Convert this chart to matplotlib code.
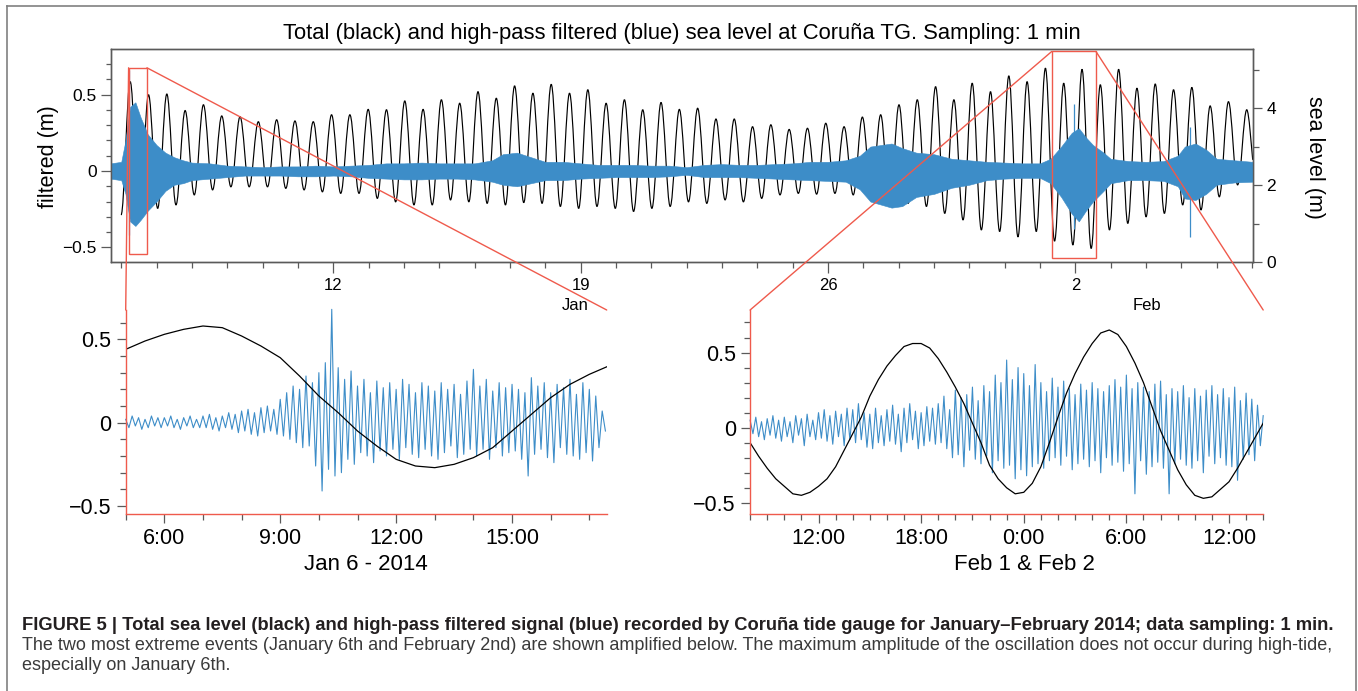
import numpy as np
import matplotlib
matplotlib.use("Agg")
import matplotlib.pyplot as plt
from matplotlib.patches import Rectangle, ConnectionPatch, PathPatch
from matplotlib.path import Path
from matplotlib.ticker import FixedLocator, FixedFormatter
from matplotlib.lines import Line2D
import matplotlib.transforms as mtransforms

plt.rcParams['font.family'] = ['Liberation Sans', 'DejaVu Sans']

# ------------------------------------------------------------------ data
# time unit: day of month counted from Jan 1 (Feb 1 = 32)
tide_first_low_day = 5.995
tide_period_days = 0.518
tide_lows_m = [1.23, 1.14, 1.40, 1.49, 1.75, 1.88, 1.96, 1.96, 1.96, 1.92, 1.88, 1.83, 1.79, 1.79, 1.66, 1.57, 1.49, 1.49,
               1.62, 1.57, 1.53, 1.49, 1.55, 1.53, 1.45, 1.40, 1.45, 1.40, 1.32, 1.40, 1.45, 1.57, 1.53, 1.62, 1.57, 1.66,
               1.75, 1.79, 1.77, 1.79, 1.75, 1.70, 1.45,
               1.53, 1.45, 1.27, 1.10, 0.84, 0.80, 0.66, 0.80, 0.55, 0.45, 0.36, 0.84, 1.01, 1.18, 1.27, 1.49, 1.36, 1.70, 2.01]
tide_highs_m = [4.69, 4.35, 4.37, 3.94, 4.09, 3.80, 3.78, 3.65, 3.70, 3.67, 3.65, 3.83, 3.83, 3.97, 3.96, 4.19, 3.97, 4.22,
                4.13, 4.43, 4.26, 4.58, 4.39, 4.62, 4.39, 4.48, 4.13, 4.22, 3.96, 4.15, 3.97, 4.00, 3.72, 3.72, 3.52, 3.57,
                3.45, 3.48, 3.61, 3.52, 3.77, 3.83, 4.09,
                4.22, 4.56, 4.22, 4.65, 4.43, 4.84, 4.69, 5.04, 4.65, 5.01, 4.61, 5.01, 4.52, 4.63, 4.48, 4.54, 4.06, 4.17, 3.96]
tide_end_day = 38.02
tide_end_m = 2.66

blue_env_day = [5.70, 6.00, 6.12, 6.25, 6.40, 6.55, 6.75, 7.00, 7.25, 7.50, 7.75, 8.00, 8.50, 9.00, 9.50, 10.0, 10.5,
                11.0, 11.5, 12.0, 12.5, 13.0, 13.5, 14.0, 14.5, 15.0, 15.5, 16.0, 16.5, 16.8, 17.2, 17.6, 18.0, 18.5,
                19.0, 19.5, 20.0, 20.5, 21.0, 21.5, 22.0, 22.5, 23.0, 23.5, 24.0, 24.5, 25.0, 25.5, 26.0, 26.5, 26.9,
                27.2, 27.5, 27.8, 28.1, 28.5, 29.0, 29.5, 30.0, 30.5, 31.0, 31.5, 32.0, 32.3, 32.6, 32.9, 33.1, 33.3,
                33.5, 33.8, 34.0, 34.5, 35.0, 35.5, 35.9, 36.1, 36.4, 36.7, 37.0, 37.5, 38.02]
blue_env_upper = [0.05, 0.06, 0.20, 0.42, 0.45, 0.35, 0.24, 0.17, 0.12, 0.09, 0.07, 0.055, 0.05, 0.035, 0.03, 0.025, 0.03,
                  0.03, 0.035, 0.03, 0.035, 0.04, 0.05, 0.05, 0.055, 0.05, 0.05, 0.05, 0.07, 0.11, 0.12, 0.09, 0.06, 0.06,
                  0.05, 0.04, 0.04, 0.04, 0.035, 0.035, 0.025, 0.04, 0.045, 0.04, 0.04, 0.045, 0.05, 0.06, 0.06, 0.07, 0.10,
                  0.16, 0.17, 0.18, 0.15, 0.12, 0.11, 0.08, 0.07, 0.06, 0.055, 0.05, 0.05, 0.08, 0.16, 0.25, 0.28, 0.22,
                  0.17, 0.12, 0.08, 0.065, 0.06, 0.065, 0.10, 0.16, 0.18, 0.14, 0.08, 0.07, 0.06]
blue_env_lower = [-0.05, -0.06, -0.15, -0.33, -0.36, -0.32, -0.26, -0.20, -0.13, -0.09, -0.08, -0.06, -0.05, -0.04, -0.03,
                  -0.03, -0.03, -0.035, -0.035, -0.03, -0.035, -0.045, -0.05, -0.055, -0.055, -0.05, -0.05, -0.055, -0.07,
                  -0.09, -0.10, -0.08, -0.06, -0.06, -0.05, -0.045, -0.04, -0.04, -0.04, -0.035, -0.025, -0.04, -0.04,
                  -0.04, -0.045, -0.05, -0.055, -0.06, -0.065, -0.07, -0.12, -0.20, -0.22, -0.24, -0.23, -0.17, -0.15,
                  -0.11, -0.09, -0.06, -0.05, -0.045, -0.045, -0.08, -0.17, -0.28, -0.33, -0.26, -0.20, -0.13, -0.08,
                  -0.06, -0.06, -0.065, -0.10, -0.18, -0.19, -0.15, -0.09, -0.075, -0.07]
blue_spike_day = [6.23, 32.95, 36.25]
blue_spike_hi = [0.66, 0.44, 0.29]
blue_spike_lo = [-0.42, -0.38, -0.43]

# zoom 1: Jan 6, from 05:00
jan6_day = 6
jan6_start_h = 5.0
jan6_end_h = 17.45
jan6_blue_step_min = 5
jan6_blue = [0.02, -0.03, 0.04, -0.02, 0.03, -0.04, 0.02, -0.03, 0.04, -0.02, 0.03, -0.03,
             0.03, -0.02, 0.04, -0.03, 0.02, -0.04, 0.03, -0.02, 0.04, -0.03, 0.02, -0.03,
             0.04, -0.03, 0.05, -0.04, 0.03, -0.05, 0.04, -0.03, 0.06, -0.04, 0.05, -0.06,
             0.07, -0.05, 0.08, -0.07, 0.06, -0.08, 0.09, -0.06, 0.10, -0.05, 0.08, -0.07,
             0.14, -0.08, 0.18, -0.10, 0.22, -0.12, 0.20, -0.15, 0.28, -0.14, 0.24, -0.26,
             0.30, -0.41, 0.36, -0.28, 0.68, -0.32, 0.33, -0.30, 0.26, -0.22, 0.31, -0.25,
             0.22, -0.18, 0.26, -0.20, 0.18, -0.24, 0.25, -0.17, 0.21, -0.20, 0.24, -0.16,
             0.20, -0.22, 0.26, -0.15, 0.23, -0.19, 0.18, -0.21, 0.24, -0.16, 0.22, -0.20,
             0.19, -0.22, 0.24, -0.18, 0.20, -0.14, 0.23, -0.21, 0.17, -0.19, 0.25, -0.16,
             0.32, -0.20, 0.22, -0.16, 0.26, -0.22, 0.19, -0.15, 0.24, -0.20, 0.21, -0.18,
             0.23, -0.17, 0.20, -0.22, 0.18, -0.32, 0.27, -0.19, 0.22, -0.16, 0.24, -0.21,
             0.18, -0.24, 0.23, -0.15, 0.21, -0.19, 0.26, -0.20, 0.17, -0.22, 0.24, -0.18,
             0.20, -0.23, 0.16, -0.15, 0.07, -0.05]
jan6_black_step_min = 30
jan6_black = [0.44, 0.49, 0.53, 0.56, 0.58, 0.57, 0.52, 0.46, 0.39, 0.28, 0.16, 0.06, -0.05, -0.14, -0.22, -0.26,
              -0.27, -0.25, -0.21, -0.15, -0.05, 0.05, 0.15, 0.23, 0.29, 0.34]

# zoom 2: Feb 1 08:00 -> Feb 2 14:00
feb_day = 32
feb_start_h = 8.0
feb_end_h = 38.0
feb_blue_step_min = 10
feb_blue = [0.05, -0.04, 0.07, -0.06, 0.04, -0.08, 0.06, -0.05, 0.08, -0.07, 0.05, -0.09,
            0.07, -0.06, 0.04, -0.10, 0.08, -0.05, 0.06, -0.12, 0.09, -0.06, 0.05, -0.08,
            0.10, -0.07, 0.12, -0.09, 0.08, -0.11, 0.11, -0.06, 0.09, -0.12, 0.13, -0.08,
            0.12, -0.10, 0.16, -0.08, 0.10, -0.13, 0.09, -0.14, 0.13, -0.10, 0.08, -0.12,
            0.12, -0.09, 0.15, -0.11, 0.09, -0.16, 0.13, -0.10, 0.16, -0.08, 0.11, -0.14,
            0.10, -0.12, 0.14, -0.09, 0.13, -0.11, 0.16, -0.10, 0.21, -0.14, 0.12, -0.20,
            0.25, -0.18, 0.20, -0.26, 0.22, -0.15, 0.27, -0.21, 0.18, -0.24, 0.28, -0.19,
            0.24, -0.30, 0.35, -0.22, 0.30, -0.27, 0.45, -0.25, 0.32, -0.34, 0.40, -0.28,
            0.36, -0.32, 0.28, -0.26, 0.42, -0.24, 0.30, -0.27, 0.24, -0.22, 0.33, -0.20,
            0.27, -0.25, 0.31, -0.19, 0.26, -0.28, 0.22, -0.24, 0.29, -0.21, 0.25, -0.26,
            0.30, -0.22, 0.26, -0.30, 0.24, -0.20, 0.28, -0.25, 0.32, -0.23, 0.27, -0.29,
            0.35, -0.24, 0.26, -0.44, 0.30, -0.22, 0.27, -0.31, 0.24, -0.26, 0.29, -0.23,
            0.31, -0.27, 0.22, -0.44, 0.26, -0.24, 0.24, -0.21, 0.28, -0.25, 0.20, -0.27,
            0.26, -0.22, 0.21, -0.30, 0.25, -0.19, 0.28, -0.24, 0.22, -0.20, 0.26, -0.25,
            0.20, -0.26, 0.27, -0.35, 0.18, -0.21, 0.23, -0.18, 0.19, -0.22, 0.15, -0.12,
            0.08]
feb_black_step_min = 30
feb_black = [-0.10, -0.19, -0.27, -0.34, -0.39, -0.44, -0.45, -0.43, -0.39, -0.34, -0.26, -0.15, -0.04, 0.07, 0.21,
             0.32, 0.41, 0.48, 0.54, 0.56, 0.56, 0.53, 0.46, 0.37, 0.27, 0.16, 0.03, -0.10, -0.25, -0.34, -0.40,
             -0.44, -0.43, -0.37, -0.26, -0.10, 0.07, 0.23, 0.36, 0.47, 0.56, 0.63, 0.65, 0.62, 0.54, 0.43, 0.30,
             0.14, -0.02, -0.15, -0.28, -0.38, -0.45, -0.47, -0.46, -0.41, -0.36, -0.27, -0.17, -0.07, 0.03]

main_day_major = [12, 19, 26, 33]
main_day_labels = ['12', '19', '26', '2']
jan6_tick_h = [6, 9, 12, 15]
jan6_tick_labels = ['6:00', '9:00', '12:00', '15:00']
feb_tick_h = [12, 18, 24, 30, 36]
feb_tick_labels = ['12:00', '18:00', '0:00', '6:00', '12:00']

# ------------------------------------------------------------------ style
W, H = 1358, 691
BLUE = '#3d8dc8'
RED = '#ef5a4c'
AX = '#5a5a5a'

fig = plt.figure(figsize=(W / 100, H / 100), dpi=100)


def rect(l, t, r, b):
    return [l / W, 1 - b / H, (r - l) / W, (b - t) / H]


def fy(y):
    return 1 - y / H


# ------------------------------------------------------------------ main axes
ax = fig.add_axes(rect(111, 49.3, 1252.7, 262.3))
ax2 = ax.twinx()

# tide: smooth curve through successive low / high water values (flat tangents at extremes)
low_days = tide_first_low_day + tide_period_days * np.arange(len(tide_lows_m))
high_days = low_days + tide_period_days / 2
ext_t = np.column_stack([low_days, high_days]).ravel()
ext_h = np.column_stack([tide_lows_m, tide_highs_m]).ravel()
verts = [(ext_t[0], ext_h[0])]
codes = [Path.MOVETO]
for i in range(1, len(ext_t)):
    dt = ext_t[i] - ext_t[i - 1]
    verts += [(ext_t[i - 1] + 0.36 * dt, ext_h[i - 1]), (ext_t[i] - 0.36 * dt, ext_h[i]), (ext_t[i], ext_h[i])]
    codes += [Path.CURVE4] * 3
dt = tide_end_day - ext_t[-1]
verts += [(ext_t[-1] + 0.36 * dt, ext_h[-1]), (tide_end_day - 0.2 * dt, tide_end_m + 0.3), (tide_end_day, tide_end_m)]
codes += [Path.CURVE4] * 3
ax2.add_patch(PathPatch(Path(verts, codes), fill=False, ec='black', lw=0.85))

ax.fill_between(blue_env_day, blue_env_upper, blue_env_lower, color=BLUE, lw=0.4)
ax.vlines(blue_spike_day, blue_spike_lo, blue_spike_hi, color=BLUE, lw=0.9)
ax.set_zorder(ax2.get_zorder() + 1)
ax.patch.set_visible(False)

ax.set_xlim(5.71, 38.02)
ax.set_ylim(-0.598, 0.797)
ax2.set_ylim(0, 5.53)

ax.yaxis.set_major_locator(FixedLocator([-0.5, 0, 0.5]))
ax.yaxis.set_major_formatter(FixedFormatter(['\u22120.5', '0', '0.5']))
ax.yaxis.set_minor_locator(FixedLocator(np.round(np.arange(-0.5, 0.75, 0.1), 2)))
ax2.yaxis.set_major_locator(FixedLocator([0, 2, 4]))
ax2.yaxis.set_major_formatter(FixedFormatter(['0', '2', '4']))
ax2.yaxis.set_minor_locator(FixedLocator([1, 3, 5]))
ax.xaxis.set_major_locator(FixedLocator(main_day_major))
ax.xaxis.set_major_formatter(FixedFormatter(main_day_labels))
ax.xaxis.set_minor_locator(FixedLocator(np.arange(6, 39)))

for a in (ax, ax2):
    for s in a.spines.values():
        s.set_color(AX)
        s.set_linewidth(1.0)
ax.tick_params(axis='y', which='major', length=7.2, width=0.9, color=AX, labelsize=12.5, pad=3)
ax.tick_params(axis='y', which='minor', length=3.6, width=0.9, color=AX)
ax.tick_params(axis='x', which='major', length=8, width=0.9, color=AX, labelsize=12, pad=3)
ax.tick_params(axis='x', which='minor', length=4.3, width=0.9, color=AX)
ax2.tick_params(axis='y', which='major', length=6.5, width=0.9, color=AX, labelsize=12.5, pad=3.5)
ax2.tick_params(axis='y', which='minor', length=4.3, width=0.9, color=AX)

bt = mtransforms.blended_transform_factory(ax.transData, fig.transFigure)
ax.text(18.84, fy(306), 'Jan', transform=bt, ha='center', va='center', fontsize=12)
ax.text(35.02, fy(306), 'Feb', transform=bt, ha='center', va='center', fontsize=12)

fig.text(49 / W, fy(157), 'filtered (m)', rotation=90, ha='center', va='center', fontsize=15.5)
fig.text(1315 / W, fy(157), 'sea level (m)', rotation=270, ha='center', va='center', fontsize=15.5)
fig.text(682 / W, fy(34), 'Total (black) and high-pass filtered (blue) sea level at Coruña TG. Sampling: 1 min',
         ha='center', va='center', fontsize=15.8)


# ------------------------------------------------------------------ zoom panels
def style_panel(p, ylim, yminor):
    p.set_ylim(*ylim)
    p.spines['top'].set_visible(False)
    p.spines['right'].set_visible(False)
    for k in ('left', 'bottom'):
        p.spines[k].set_color(RED)
        p.spines[k].set_linewidth(1.0)
    p.yaxis.set_major_locator(FixedLocator([-0.5, 0, 0.5]))
    p.yaxis.set_major_formatter(FixedFormatter(['\u22120.5', '0', '0.5']))
    p.yaxis.set_minor_locator(FixedLocator(yminor))
    p.tick_params(which='major', length=6.8, width=0.9, color=AX, labelsize=15.5, pad=3.5)
    p.tick_params(which='minor', length=4.1, width=0.9, color=AX)
    p.patch.set_visible(False)


p1 = fig.add_axes(rect(125.7, 310, 606.7, 513.5))
t1_blue = jan6_day + (jan6_start_h * 60 + jan6_blue_step_min * np.arange(len(jan6_blue))) / 1440
t1_black = jan6_day + (jan6_start_h * 60 + jan6_black_step_min * np.arange(len(jan6_black))) / 1440
p1.plot(t1_blue, jan6_blue, color=BLUE, lw=0.8, clip_on=False)
p1.plot(t1_black, jan6_black, color='black', lw=0.9)
p1.set_xlim(jan6_day + jan6_start_h / 24, jan6_day + jan6_end_h / 24)
style_panel(p1, (-0.545, 0.676), np.round(np.arange(-0.5, 0.65, 0.1), 2))
p1.xaxis.set_major_locator(FixedLocator([jan6_day + h / 24 for h in jan6_tick_h]))
p1.xaxis.set_major_formatter(FixedFormatter(jan6_tick_labels))
p1.xaxis.set_minor_locator(FixedLocator([jan6_day + h / 24 for h in range(5, 18)]))

p2 = fig.add_axes(rect(750.1, 310, 1263.2, 513.5))
t2_blue = feb_day + (feb_start_h * 60 + feb_blue_step_min * np.arange(len(feb_blue))) / 1440
t2_black = feb_day + (feb_start_h * 60 + feb_black_step_min * np.arange(len(feb_black))) / 1440
p2.plot(t2_blue, feb_blue, color=BLUE, lw=0.8, clip_on=False)
p2.plot(t2_black, feb_black, color='black', lw=0.9)
p2.set_xlim(feb_day + feb_start_h / 24, feb_day + feb_end_h / 24)
style_panel(p2, (-0.571, 0.783), np.round(np.arange(-0.5, 0.75, 0.1), 2))
p2.xaxis.set_major_locator(FixedLocator([feb_day + h / 24 for h in feb_tick_h]))
p2.xaxis.set_major_formatter(FixedFormatter(feb_tick_labels))
p2.xaxis.set_minor_locator(FixedLocator([feb_day + h / 24 for h in range(8, 39)]))

fig.text(366.3 / W, fy(565), 'Jan 6 - 2014', ha='center', va='center', fontsize=16)
fig.text(1024 / W, fy(565), 'Feb 1 & Feb 2', ha='center', va='center', fontsize=16)

# red boxes and connectors
for p in (p1, p2):
    x0, x1 = p.get_xlim()
    y0, y1 = p.get_ylim()
    ax.add_patch(Rectangle((x0, y0), x1 - x0, y1 - y0, fill=False, ec=RED, lw=1.0, zorder=5))
    for xx in (x0, x1):
        cp = ConnectionPatch(xyA=(xx, y1), coordsA=ax.transData, xyB=(xx, y1), coordsB=p.transData,
                             color=RED, lw=1.0, zorder=6)
        fig.add_artist(cp)

# ------------------------------------------------------------------ frame + caption
FR = '#808080'
fig.add_artist(Line2D([7.3 / W, 7.3 / W], [0, fy(6)], color=FR, lw=1.2))
fig.add_artist(Line2D([1355.7 / W, 1355.7 / W], [0, fy(6)], color=FR, lw=1.2))
fig.add_artist(Line2D([7.3 / W, 1355.7 / W], [fy(6), fy(6)], color=FR, lw=1.2))

renderer = fig.canvas.get_renderer()


def fit_text(x, y, s, width_px, **kw):
    t = fig.text(x / W, fy(y), s, ha='left', va='center', **kw)
    w = t.get_window_extent(renderer).width
    t.set_fontsize(t.get_fontsize() * width_px / w)
    return t


fit_text(22.5, 625, 'FIGURE 5 | Total sea level (black) and high-pass filtered signal (blue) recorded by Coruña tide '
         'gauge for January\u2013February 2014; data sampling: 1 min.', 1317, fontsize=11, fontweight='bold',
         color='#231f20')
t2 = fit_text(22.5, 645, 'The two most extreme events (January 6th and February 2nd) are shown amplified below. The '
              'maximum amplitude of the oscillation does not occur during high-tide,', 1311, fontsize=11,
              color='#3a3a3a')
fig.text(22.5 / W, fy(665), 'especially on January 6th.', ha='left', va='center', fontsize=t2.get_fontsize(),
         color='#3a3a3a')

fig.savefig('out.png', dpi=100)
